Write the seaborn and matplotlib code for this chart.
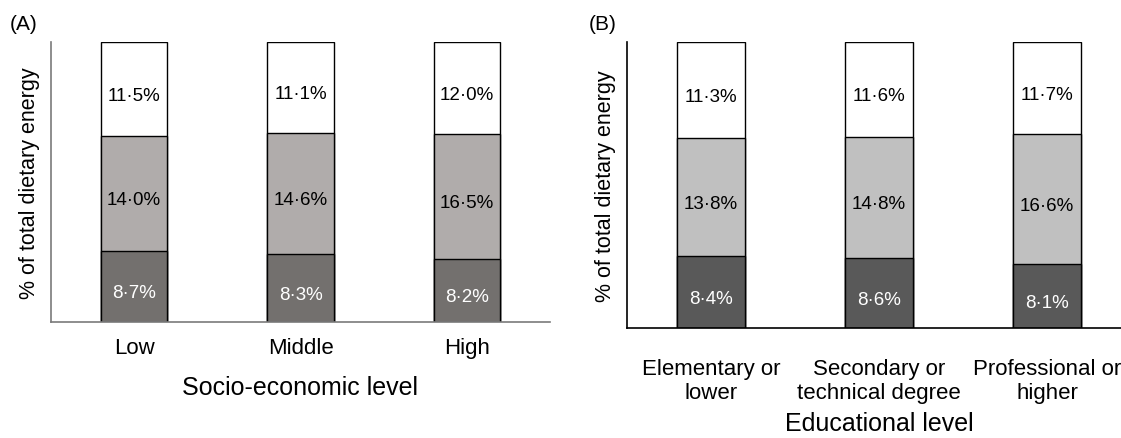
import matplotlib
matplotlib.use("Agg")
import matplotlib.pyplot as plt
import seaborn as sns
import pandas as pd
import numpy as np

# ---- data ----
ses_levels = ["Low", "Middle", "High"]
ses_bottom = [8.7, 8.3, 8.2]
ses_middle = [14.0, 14.6, 16.5]
ses_top = [11.5, 11.1, 12.0]

edu_levels = ["Elementary or\nlower", "Secondary or\ntechnical degree", "Professional or\nhigher"]
edu_bottom = [8.4, 8.6, 8.1]
edu_middle = [13.8, 14.8, 16.6]
edu_top = [11.3, 11.6, 11.7]

sns.set_theme(style="white")
plt.rcParams["font.family"] = ["Liberation Sans", "DejaVu Sans"]
plt.rcParams["text.color"] = "black"
plt.rcParams["axes.labelcolor"] = "black"
plt.rcParams["xtick.color"] = "black"
plt.rcParams["ytick.color"] = "black"

W, H = 1121, 439
fig = plt.figure(figsize=(W / 100, H / 100), dpi=100)


def px_axes(left, right, top, bottom):
    return fig.add_axes([left / W, (H - bottom) / H, (right - left) / W, (bottom - top) / H])


def fmt(v):
    return f"{v:.1f}".replace(".", "\u00b7") + "%"


def panel(ax, cats, bot, mid, top, colors, spine_color, xlabel, tick_pad, labelpad):
    bot = np.array(bot); mid = np.array(mid); top = np.array(top)
    tot = bot + mid + top
    df = pd.DataFrame({
        "cat": cats,
        "full": tot / tot,
        "lower2": (bot + mid) / tot,
        "lower1": bot / tot,
    })
    sns.barplot(data=df, x="cat", y="full", color=colors[0], width=0.4,
                edgecolor="black", linewidth=1.0, saturation=1, ax=ax)
    sns.barplot(data=df, x="cat", y="lower2", color=colors[1], width=0.4,
                edgecolor="black", linewidth=1.0, saturation=1, ax=ax)
    sns.barplot(data=df, x="cat", y="lower1", color=colors[2], width=0.4,
                edgecolor="black", linewidth=1.0, saturation=1, ax=ax)
    kw = dict(ha="center", va="center", fontsize=13.5, textcoords="offset points",
              xytext=(0, -4.5))
    for i in range(len(cats)):
        b = bot[i] / tot[i]
        m = mid[i] / tot[i]
        ax.annotate(fmt(bot[i]), (i, b / 2), color="white", **kw)
        ax.annotate(fmt(mid[i]), (i, b + m / 2), color="black", **kw)
        ax.annotate(fmt(top[i]), (i, b + m + (1 - b - m) / 2), color="black", **kw)
    ax.set_xlim(-0.5, len(cats) - 0.5)
    ax.set_ylim(0, 1)
    ax.set_yticks([])
    ax.set_ylabel("% of total dietary energy", fontsize=15.5, labelpad=8)
    ax.set_xlabel(xlabel, fontsize=18, labelpad=labelpad)
    ax.tick_params(axis="x", length=0, pad=tick_pad, labelsize=16)
    for s in ["top", "right"]:
        ax.spines[s].set_visible(False)
    for s in ["left", "bottom"]:
        ax.spines[s].set_color(spine_color)
        ax.spines[s].set_linewidth(1.2)
    ax.set_facecolor("white")


axA = px_axes(51, 550, 43, 323)
panel(axA, ses_levels, ses_bottom, ses_middle, ses_top,
      ["#ffffff", "#b0acab", "#73706e"], "#7a7a7a", "Socio-economic level", 11, 12)

axB = px_axes(627, 1131, 43, 329)
panel(axB, edu_levels, edu_bottom, edu_middle, edu_top,
      ["#ffffff", "#c0c0c0", "#595959"], "black", "Educational level", 21.5, 6)

fig.text(10 / W, 1 - 24 / H, "(A)", fontsize=15, va="center", ha="left")
fig.text(589 / W, 1 - 24 / H, "(B)", fontsize=15, va="center", ha="left")

fig.savefig("out.png", dpi=100, facecolor="white")
